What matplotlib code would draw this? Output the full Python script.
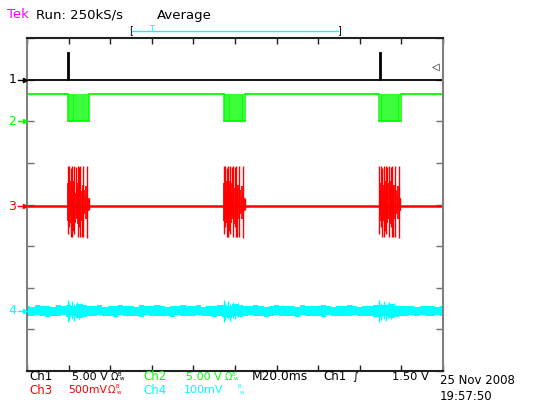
import numpy as np
import matplotlib.pyplot as plt
from matplotlib.lines import Line2D

# Captura del osciloscopio: 4 canales, 20 ms/div, 10 x 8 divisiones

W, H = 533, 405

# niveles de tierra de cada canal (en divisiones, centro = 0)
gnd = {'1': 3.0, '2': 2.0, '3': -0.04, '4': -2.56}
# escala vertical de cada canal (V/div)
escala = {'1': 5.0, '2': 5.0, '3': 0.5, '4': 0.1}

# inicio de cada ráfaga (ms)
rafagas = [19.6, 94.5, 169.4]

# canal 1: pulso de disparo
ch1_pulsos = [19.7, 169.5]
ch1_ancho = 0.6
ch1_alto = 3.25

# canal 2: nivel alto y flancos de la ráfaga (ms desde el inicio)
ch2_alto = 3.25
ch2_flancos = [0, 0.64, 1.44, 2.4, 3.0, 4.0, 5.1, 5.9, 6.9, 7.85, 8.8, 9.5, 10.4]

# canal 3: picos grandes de la ráfaga (ms, V arriba, V abajo)
ch3_t = [0, 0.6, 1.5, 2.1, 2.6, 3.2, 3.9, 4.7, 5.4, 6.1, 6.7, 7.4, 8.5, 9.3, 10.1]
ch3_max = [0.48, 0.48, 0.46, 0.48, 0.22, 0.48, 0.47, 0.48, 0.47, 0.48, 0.22, 0.48, 0.12, 0.48, 0.10]
ch3_min = [-0.34, -0.25, -0.37, -0.37, -0.30, -0.33, -0.12, -0.37, -0.25, -0.37, -0.37, -0.37, -0.05, -0.38, -0.05]
# picos medianos entre los grandes
ch3_t2 = [0.3, 0.9, 1.2, 1.8, 2.4, 2.9, 3.5, 4.2, 5.0, 5.8, 6.4, 7.1, 7.8, 8.9, 9.7]
ch3_max2 = [0.28, 0.20, 0.30, 0.18, 0.26, 0.30, 0.16, 0.28, 0.22, 0.30, 0.18, 0.26, 0.20, 0.24, 0.10]
ch3_min2 = [-0.18, -0.12, -0.20, -0.15, -0.18, -0.10, -0.20, -0.16, -0.22, -0.12, -0.18, -0.15, -0.10, -0.16, -0.06]

# canal 4: envolvente del ruido cada 2.5 ms (mV)
ch4_sup = [12, 10, 14, 11, 13, 10, 14, 12,
           15, 13, 16, 14, 13,
           11, 14, 10, 13, 12, 14, 11, 13, 10, 14, 12, 11, 14, 12, 10, 13, 12, 14, 11, 12, 14, 10, 13, 12, 14,
           15, 13, 16, 14, 12,
           11, 14, 12, 10, 13, 14, 11, 13, 12, 10, 14, 12, 13, 11, 14, 12, 10, 13, 11, 14, 12, 10, 13, 12, 14,
           15, 14, 16, 13, 12,
           11, 13, 10, 12, 11, 13, 10, 12]
ch4_inf = [-11, -13, -10, -12, -14, -11, -12, -10,
           -15, -13, -16, -14, -12,
           -12, -10, -13, -11, -14, -10, -12, -13, -11, -14, -10, -12, -13, -11, -12, -14, -10, -13, -11, -12, -10, -13, -11, -14, -12,
           -14, -16, -13, -15, -12,
           -10, -13, -11, -14, -12, -10, -13, -11, -12, -14, -10, -12, -13, -11, -14, -10, -12, -13, -11, -12, -10, -13, -11, -12, -14,
           -15, -13, -16, -14, -12,
           -11, -10, -12, -9, -11, -12, -10, -11]
ch4_t = np.arange(0, 202.5, 2.5)
# picos del canal 4 durante la ráfaga (ms, mV arriba, mV abajo)
ch4_pico_t = [0, 0.8, 2.1, 3.2, 4.5, 5.6, 6.9, 8.8]
ch4_pico_max = [26, 20, 24, 18, 22, 17, 20, 14]
ch4_pico_min = [-26, -22, -18, -24, -16, -20, -15, -12]

NEGRO = 'black'
VERDE = '#00ff00'
ROJO = '#ff0000'
CIAN = '#00ffff'
MAGENTA = '#ff00ff'


def div(canal, v):
    return gnd[canal] + np.asarray(v, dtype=float) / escala[canal]


def px(x, y):
    return x / W, 1 - y / H


fig = plt.figure(figsize=(W / 100, H / 100), dpi=100)
ax = fig.add_axes([27 / W, 1 - 371 / H, 416 / W, 333 / H])
ax.set_xlim(0, 200)
ax.set_ylim(-4, 4)

# canal 1
t1 = [0]
v1 = [0]
for p in ch1_pulsos:
    t1 += [p, p, p + ch1_ancho, p + ch1_ancho]
    v1 += [0, ch1_alto, ch1_alto, 0]
t1.append(200)
v1.append(0)
ax.plot(t1, div('1', v1), color=NEGRO, lw=1.3, solid_joinstyle='miter')

# canal 2
ax.plot([0, rafagas[0]], div('2', [ch2_alto, ch2_alto]), color=VERDE, lw=1.3)
for i, r in enumerate(rafagas):
    fin = rafagas[i + 1] if i + 1 < len(rafagas) else 200
    ax.plot([r + ch2_flancos[-1], fin], div('2', [ch2_alto, ch2_alto]), color=VERDE, lw=1.3)
    ax.vlines([r + f for f in ch2_flancos], div('2', 0), div('2', ch2_alto), color=VERDE, lw=1.1)
    ax.plot([r, r + ch2_flancos[-1]], div('2', [0, 0]), color=VERDE, lw=1.3)

# canal 3
ax.plot([0, 200], div('3', [0, 0]), color=ROJO, lw=1.8)
for r in rafagas:
    ax.vlines([r + t for t in ch3_t2], div('3', ch3_min2), div('3', ch3_max2), color=ROJO, lw=1.3)
    ax.vlines([r + t for t in ch3_t], div('3', ch3_min), div('3', ch3_max), color=ROJO, lw=1.0)

# canal 4
ax.fill_between(ch4_t, div('4', np.array(ch4_inf) / 1000), div('4', np.array(ch4_sup) / 1000),
                step='mid', color=CIAN, lw=0)
for r in rafagas:
    ax.vlines([r + t for t in ch4_pico_t], div('4', np.array(ch4_pico_min) / 1000),
              div('4', np.array(ch4_pico_max) / 1000), color=CIAN, lw=1.0)

# nivel de disparo
ax.text(196.5, gnd['1'] + 1.5 / escala['1'], '◁', color=NEGRO, fontsize=7, ha='center', va='center')

# marco y marcas de división
ax.set_xticks(np.arange(0, 201, 20))
ax.set_yticks(np.arange(-4, 5, 1))
ax.set_xticklabels([])
ax.set_yticklabels([])
ax.tick_params(axis='x', direction='in', length=4, width=1, color='#202020', top=True, bottom=True)
ax.tick_params(axis='y', direction='in', length=5, width=1, color='#707070', left=True, right=True)
ax.spines['top'].set_color('#202020')
ax.spines['bottom'].set_color('#202020')
ax.spines['left'].set_color('#808080')
ax.spines['right'].set_color('#808080')
for s in ax.spines.values():
    s.set_linewidth(1.5)

# marcadores de tierra a la izquierda
for canal, col in [('1', NEGRO), ('2', VERDE), ('3', ROJO), ('4', CIAN)]:
    yy = 38 + (4 - gnd[canal]) * 41.6
    fig.text(*px(12.5, yy), canal, color=col, fontsize=9, ha='center', va='center')
    fig.add_artist(Line2D([18 / W, 25 / W], [1 - yy / H] * 2, color=col, lw=1,
                          marker='>', markersize=3, markevery=[1]))

# cabecera
fig.text(*px(7, 15), 'Tek', color=MAGENTA, fontsize=9.5, va='center')
fig.text(*px(36, 15), 'Run: 250kS/s', color=NEGRO, fontsize=9.5, va='center')
fig.text(*px(157, 15), 'Average', color=NEGRO, fontsize=9.5, va='center')
fig.add_artist(Line2D([132 / W, 338 / W], [1 - 31 / H] * 2, color=CIAN, lw=1))
fig.text(*px(131, 30), '[', color=NEGRO, fontsize=7, ha='center', va='center')
fig.text(*px(339, 30), ']', color=NEGRO, fontsize=7, ha='center', va='center')
fig.text(*px(152, 29), 'T', color=CIAN, fontsize=6, ha='center', va='center')


def sello(x, y, col):
    fig.text(*px(x, y), 'Ω', color=col, fontsize=7, va='center')
    fig.text(*px(x + 7, y - 3), 'B', color=col, fontsize=4, va='center')
    fig.text(*px(x + 9, y + 2), 'w', color=col, fontsize=4, va='center')


# pie: escalas de los canales y base de tiempos
fig.text(*px(29, 377), 'Ch1', color=NEGRO, fontsize=8.5, va='center')
fig.text(*px(72, 377), '5.00 V', color=NEGRO, fontsize=8, va='center')
sello(111, 377, NEGRO)
fig.text(*px(143, 377), 'Ch2', color=VERDE, fontsize=8.5, va='center')
fig.text(*px(186, 377), '5.00 V', color=VERDE, fontsize=8, va='center')
sello(225, 377, VERDE)
fig.text(*px(252, 377), 'M20.0ms', color=NEGRO, fontsize=8.8, va='center')
fig.text(*px(323, 377), 'Ch1', color=NEGRO, fontsize=8.5, va='center')
fig.text(*px(352, 377), '∫', color=NEGRO, fontsize=8, va='center')
fig.text(*px(392, 377), '1.50 V', color=NEGRO, fontsize=8.2, va='center')

fig.text(*px(29, 390), 'Ch3', color=ROJO, fontsize=8.5, va='center')
fig.text(*px(68, 390), '500mV', color=ROJO, fontsize=7.8, va='center')
sello(108, 390, ROJO)
fig.text(*px(143, 390), 'Ch4', color=CIAN, fontsize=8.5, va='center')
fig.text(*px(184, 390), '100mV', color=CIAN, fontsize=8, va='center')
fig.text(*px(238, 387), 'B', color=CIAN, fontsize=4, va='center')
fig.text(*px(240, 392), 'w', color=CIAN, fontsize=4, va='center')

fig.text(*px(440, 381), '25 Nov 2008', color=NEGRO, fontsize=8.5, va='center')
fig.text(*px(440, 396), '19:57:50', color=NEGRO, fontsize=8.5, va='center')

fig.savefig('out.png', dpi=100)
